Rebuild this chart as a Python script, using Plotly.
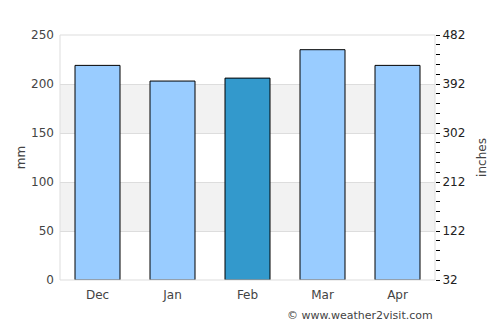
import plotly.graph_objects as go

months = ["Dec", "Jan", "Feb", "Mar", "Apr"]
rain_mm = [219, 203, 206, 235, 219]
bar_colors = ["#99ccff", "#99ccff", "#3399cc", "#99ccff", "#99ccff"]
left_ticks = [0, 50, 100, 150, 200, 250]
right_ticks = [32, 122, 212, 302, 392, 482]

fig = go.Figure()
fig.add_trace(go.Bar(
    x=months, y=rain_mm, width=0.6,
    marker=dict(color=bar_colors, line=dict(color="#000000", width=1)),
    hoverinfo="skip", showlegend=False,
))
fig.add_trace(go.Scatter(x=months, y=[None]*len(months), yaxis="y2",
                         showlegend=False, hoverinfo="skip"))

shapes = []
for lo, hi in [(50, 100), (150, 200)]:
    shapes.append(dict(type="rect", xref="paper", yref="y", x0=0, x1=1, y0=lo, y1=hi,
                       fillcolor="#f2f2f2", line=dict(width=0), layer="below"))
shapes.append(dict(type="rect", xref="paper", yref="paper", x0=0, x1=1, y0=0, y1=1,
                   line=dict(color="#dddddd", width=1), fillcolor="rgba(0,0,0,0)", layer="above"))

fig.update_layout(
    width=500, height=325,
    margin=dict(l=60, r=65, t=35, b=45),
    paper_bgcolor="white", plot_bgcolor="white",
    font=dict(family="DejaVu Sans", size=12, color="#444"),
    bargap=0.4,
    shapes=shapes,
    xaxis=dict(showgrid=False, zeroline=False, showline=False, ticks="",
               ticklabelstandoff=6,
               tickfont=dict(size=12, color="#444")),
    yaxis=dict(range=[0, 250], tickvals=left_ticks, showgrid=True, gridcolor="#dddddd",
               gridwidth=1, zeroline=False, showline=False, ticks="",
               ticklabelstandoff=5,
               title=dict(text="mm", font=dict(size=12, color="#444"), standoff=2),
               tickfont=dict(size=12, color="#444")),
    yaxis2=dict(range=[32, 482], tickvals=right_ticks, overlaying="y", side="right",
                showgrid=False, zeroline=False, showline=False,
                ticks="outside", ticklen=4, tickcolor="#000", tickwidth=1,
                minor=dict(dtick=18, tick0=32, ticks="outside", ticklen=4, tickcolor="#000", showgrid=False),
                title=dict(text="inches", font=dict(size=12, color="#444"), standoff=13),
                tickfont=dict(size=12, color="#222")),
    annotations=[dict(text="© www.weather2visit.com", xref="paper", yref="paper",
                      x=1, y=0, xanchor="right", yanchor="top", yshift=-27,
                      showarrow=False, font=dict(size=11, color="#444"))],
)

fig.write_html("out.html")
